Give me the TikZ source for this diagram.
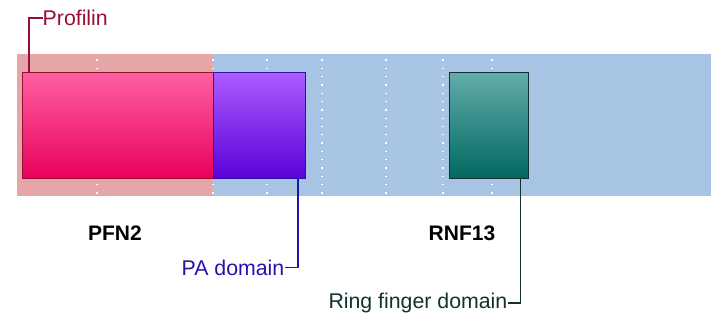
\documentclass[tikz,border=0pt]{standalone}
\usepackage{fontspec}
\setmainfont{Liberation Sans}
\definecolor{bandpink}{RGB}{228,166,166}
\definecolor{bandblue}{RGB}{168,196,228}
\definecolor{pinktop}{RGB}{255,96,162}
\definecolor{pinkbot}{RGB}{232,0,92}
\definecolor{pinkline}{RGB}{150,14,48}
\definecolor{purtop}{RGB}{172,92,255}
\definecolor{purbot}{RGB}{90,0,216}
\definecolor{purline}{RGB}{40,16,170}
\definecolor{tealtop}{RGB}{98,172,170}
\definecolor{tealbot}{RGB}{0,104,96}
\definecolor{tealline}{RGB}{20,48,48}
\begin{document}
\begin{tikzpicture}[x=1pt,y=-1pt,
  dom/.style={draw, line width=1.3pt, inner sep=0pt, anchor=north west, minimum height=106pt, shading=axis},
  dots/.style={white, line width=1.3pt, dash pattern=on 1.3pt off 7pt},
  lbl/.style={font=\fontsize{21.3}{25}\selectfont, inner sep=0pt},
  gname/.style={font=\fontsize{21}{25}\selectfont\bfseries, inner sep=0pt},
  lead/.style={line width=1.6pt}]
\useasboundingbox (0,0) rectangle (719,327);
% background bands
\fill[bandpink] (17,54) rectangle (213,196);
\fill[bandblue] (213,54) rectangle (711,196);
% dotted grid lines
\foreach \x in {97,213,267,322,386,443,492}
  \draw[dots] (\x,59.4) -- (\x,196);
% domain boxes
\node[dom, draw=pinkline, top color=pinktop, bottom color=pinkbot, minimum width=191pt] (pink) at (22,72) {};
\node[dom, draw=purline, top color=purtop, bottom color=purbot, minimum width=92pt] (pa) at (213,72) {};
\node[dom, draw=tealline, top color=tealtop, bottom color=tealbot, minimum width=79pt] (ring) at (449,72) {};
% gene names
\node[gname] (pfn2) at (115,233) {PFN2};
\node[gname] (rnf13) at (462,233) {RNF13};
% labels
\node[lbl, text=pinkline, anchor=west] (prof) at (42.5,18) {Profilin};
\node[lbl, text=purline, anchor=east] (palbl) at (284.5,267.5) {PA domain};
\node[lbl, text=tealline, anchor=east] (rlbl) at (507.5,303) {Ring finger domain};
% leader lines
\coordinate (c1) at (29,18);
\coordinate (c2) at (298,267.5);
\coordinate (c3) at (520.5,303);
\draw[lead, pinkline] (c1 |- pink.north) -- (c1) -- (prof.west);
\draw[lead, purline] (c2 |- pa.south) -- (c2) -- (palbl.east);
\draw[lead, tealline] (c3 |- ring.south) -- (c3) -- (rlbl.east);
\end{tikzpicture}
\end{document}
